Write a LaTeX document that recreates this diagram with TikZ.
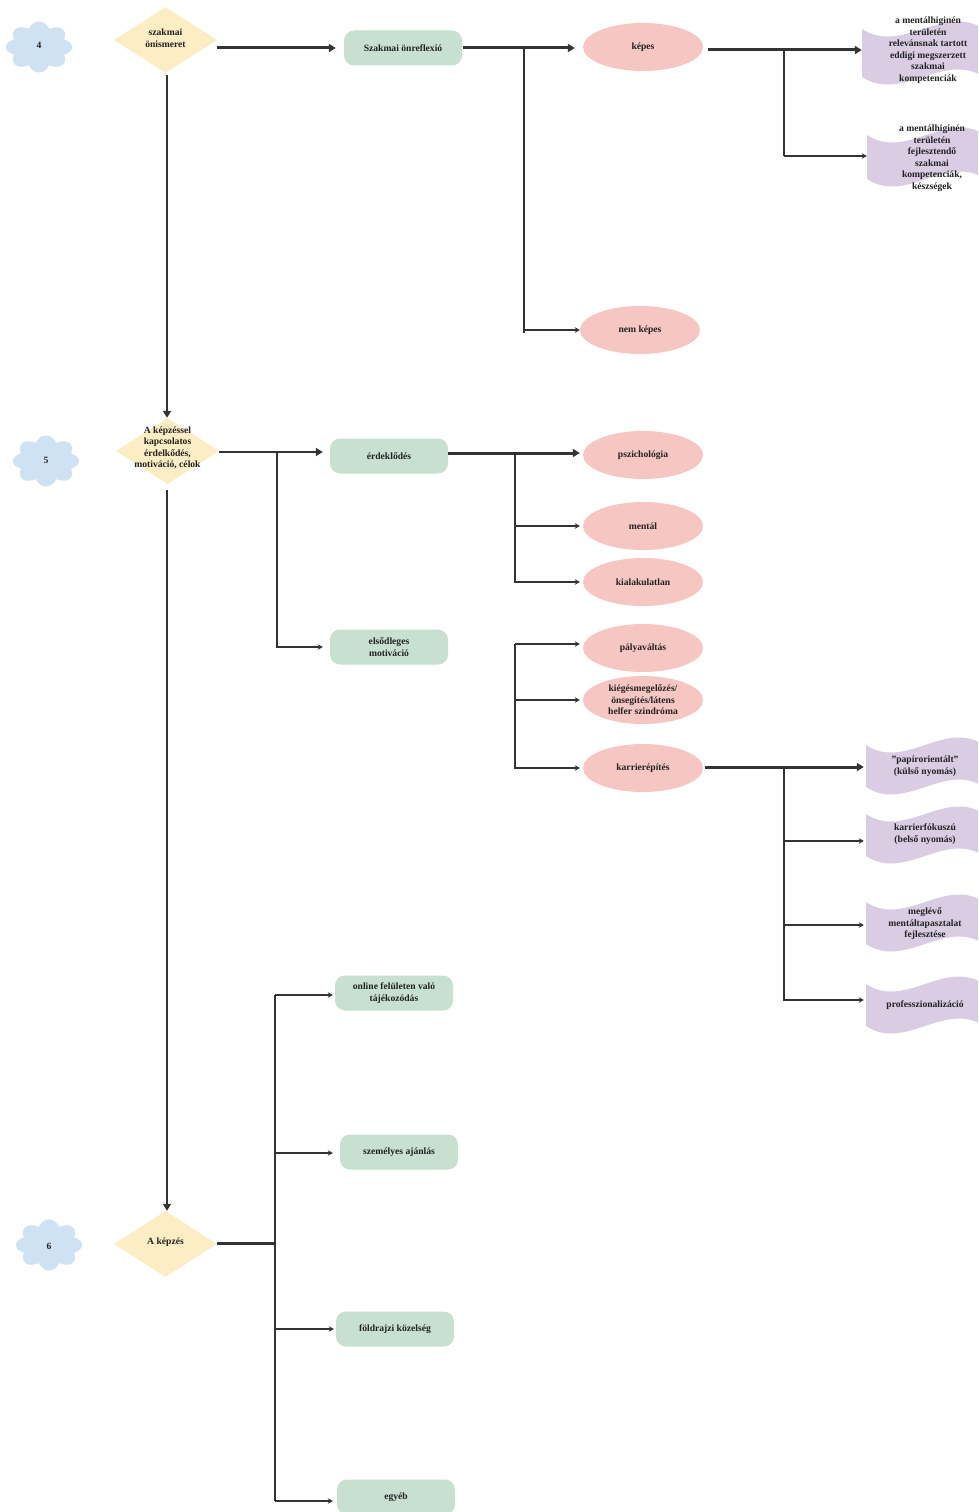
\documentclass[tikz,border=0pt]{standalone}
\usepackage{fontspec}
\setmainfont{Liberation Serif}
\usetikzlibrary{shapes.geometric,arrows.meta}
\definecolor{cloudc}{HTML}{CFE2F3}
\definecolor{diac}{HTML}{FCEDC4}
\definecolor{rectc}{HTML}{C8E0CF}
\definecolor{ellc}{HTML}{F6C6C2}
\definecolor{wavec}{HTML}{DACDE3}
\definecolor{linec}{HTML}{333333}
\definecolor{txtc}{HTML}{222222}
\tikzset{
  lbl/.style={font=\bfseries\fontsize{9.6}{11.5}\selectfont, text=txtc, align=center},
  rbox/.style={lbl, rectangle, rounded corners=10pt, fill=rectc, minimum width=118pt, minimum height=35pt, inner sep=1pt},
  ebox/.style={lbl, ellipse, fill=ellc, minimum width=120pt, minimum height=48pt, inner sep=0pt},
  dbox/.style={diamond, fill=diac, minimum width=103pt, minimum height=66pt, inner sep=0pt},
  wtxt/.style={lbl, inner sep=0pt},
  thinc/.style={draw=linec, line width=1.5pt, -{Stealth[length=5pt,width=5.5pt]}},
  midc/.style={draw=linec, line width=2pt, -{Triangle[length=7pt,width=8pt]}},
  thickc/.style={draw=linec, line width=3pt, -{Triangle[length=7pt,width=8pt]}},
  plainmid/.style={draw=linec, line width=2pt},
  plainthick/.style={draw=linec, line width=3pt},
}
\newcommand{\cloudat}[2]{\fill[cloudc] plot[domain=0:359,samples=180,variable=\t,smooth] ({#1+(27+6*abs(cos(4*\t)))*cos(\t)},{#2+(19.5+6*abs(cos(4*\t)))*sin(\t)}) -- cycle;}
% wave (tape) shape: x0, y0 (top-left), width, height, amplitude
\newcommand{\waveat}[5]{\fill[wavec] (#1,#2) .. controls ({#1+#3/3},{#2+2*#5}) and ({#1+2*#3/3},{#2-2*#5}) .. ({#1+#3},#2) -- ({#1+#3},{#2+#4}) .. controls ({#1+2*#3/3},{#2+#4-2*#5}) and ({#1+#3/3},{#2+#4+2*#5}) .. (#1,{#2+#4}) -- cycle;}
\begin{document}
\begin{tikzpicture}[x=1pt,y=-1pt]
\clip (0,0) rectangle (978,1512);
\fill[white] (0,0) rectangle (978,1512);

% clouds
\cloudat{39}{47}
\node[lbl] (c4) at (39,45) {4};
\cloudat{46}{461}
\node[lbl] (c5) at (46,460) {5};
\cloudat{49}{1245}
\node[lbl] (c6) at (49,1246) {6};

% diamonds
\node[dbox] (d1) at (165.5,40) {};
\node[lbl] (d1t) at (165.5,38) {szakmai\\önismeret};
\node[dbox] (d2) at (167.5,451) {};
\node[lbl] (d2t) at (167.5,448) {A képzéssel\\kapcsolatos\\érdelkődés,\\motiváció, célok};
\node[dbox] (d3) at (165.5,1244) {};
\node[lbl] (d3t) at (165.5,1242) {A képzés};

% rounded boxes
\node[rbox] (szak) at (403,48) {Szakmai önreflexió};
\node[rbox] (erd) at (389,456) {érdeklődés};
\node[rbox] (elso) at (389,647) {elsődleges\\motiváció};
\node[rbox] (online) at (394,993) {online felületen való\\tájékozódás};
\node[rbox] (szem) at (399,1152) {személyes ajánlás};
\node[rbox] (fold) at (395,1329) {földrajzi közelség};
\node[rbox] (egyeb) at (396,1497) {egyéb};

% ellipses
\node[ebox] (kepes) at (643,47) {képes};
\node[ebox] (nemk) at (640,330) {nem képes};
\node[ebox] (pszi) at (643,455) {pszichológia};
\node[ebox] (ment) at (643,526) {mentál};
\node[ebox] (kial) at (643,582) {kialakulatlan};
\node[ebox] (palya) at (643,648) {pályaváltás};
\node[ebox] (kieg) at (643,700) {kiégésmegelőzés/\\önsegítés/látens\\helfer szindróma};
\node[ebox] (karr) at (643,768) {karrierépítés};

% waves
\waveat{862}{29}{122}{48}{13}
\node[wtxt, minimum width=132pt] (w1) at (928,50) {a mentálhiginén\\területén\\relevánsnak tartott\\eddigi megszerzett\\szakmai\\kompetenciák};
\waveat{867}{135}{118}{44}{13}
\node[wtxt, minimum width=130pt] (w2) at (932,158) {a mentálhiginén\\területén\\fejlesztendő\\szakmai\\kompetenciák,\\készségek};
\waveat{866}{745}{118}{42}{13}
\node[wtxt, minimum width=118pt] (w3) at (925,766) {”papírorientált”\\(külső nyomás)};
\waveat{866}{814}{118}{42}{13}
\node[wtxt, minimum width=118pt] (w4) at (925,834) {karrierfókuszú\\(belső nyomás)};
\waveat{866}{902}{118}{42}{13}
\node[wtxt, minimum width=118pt] (w5) at (925,924) {meglévő\\mentáltapasztalat\\fejlesztése};
\waveat{866}{984}{118}{42}{13}
\node[wtxt, minimum width=118pt] (w6) at (925,1005) {professzionalizáció};

% ---- connectors ----
% row 4
\draw[thickc, shorten >=8pt] (d1.east |- szak) -- (szak);
\draw[thickc, shorten >=8pt, shorten <=1pt] (szak.east) -- (szak.east -| kepes.west);
\coordinate (b1) at (524,48);
\draw[thinc] (b1) |- (nemk.west);
\draw[plainmid] (b1) -- (524,333);
\draw[thickc] (kepes.east |- w1) ++(5,0) -- (w1.west);
\coordinate (b2) at (784,50);
\draw[plainmid] (b2) -- (784,156);
\draw[thinc] (784,156) -- (w2.west |- 784,156);

% vertical d1 -> d2
\draw[midc] (d1.south) ++(1.5,2) -- (d2.north -| 167,0);

% row 5
\draw[midc, shorten >=7pt] (d2.east |- 0,452) -- (erd.west |- 0,452);
\coordinate (b3) at (277,452);
\draw[thinc, shorten >=7pt] (b3) |- (elso.west);
\draw[thickc, shorten >=3pt] (erd.east |- 0,453) -- (pszi.west |- 0,453);
\coordinate (b4) at (515,453);
\draw[thinc, shorten >=3pt] (b4) |- (ment.west);
\draw[thinc, shorten >=3pt] (b4) |- (kial.west);
\coordinate (b5) at (515,644);
\draw[thinc, shorten >=3pt] (b5) -- (palya.west |- b5);
\draw[thinc, shorten >=3pt] (b5) |- (kieg.west);
\draw[thinc, shorten >=3pt] (b5) |- (karr.west);
\draw[thickc, shorten >=2pt] (karr.east) ++(2,-1) -- (w3.west |- 0,767);
\coordinate (b6) at (784,767);
\draw[plainmid] (b6) -- (784,1001);
\draw[thinc, shorten >=2pt] (b6) |- (w4.west |- 0,841);
\draw[thinc, shorten >=2pt] (b6) |- (w5.west |- 0,925);
\draw[thinc, shorten >=2pt] (b6) |- (w6.west |- 0,1000);

% vertical d2 -> d3
\draw[midc] (167,490) -- (d3.north -| 167,0);

% row 6
\coordinate (b7) at (275,1243);
\draw[plainthick] (d3.east |- b7) -- (b7);
\draw[plainmid] (275,995) -- (275,1501);
\draw[thinc] (275,995) -- ([xshift=-2pt]online.west |- 0,995);
\draw[thinc] (275,1153) -- ([xshift=-7pt]szem.west |- 0,1153);
\draw[thinc] (275,1329) -- ([xshift=-2pt]fold.west |- 0,1329);
\draw[thinc] (275,1501) -- ([xshift=-4pt]egyeb.west |- 0,1501);
\end{tikzpicture}
\end{document}
